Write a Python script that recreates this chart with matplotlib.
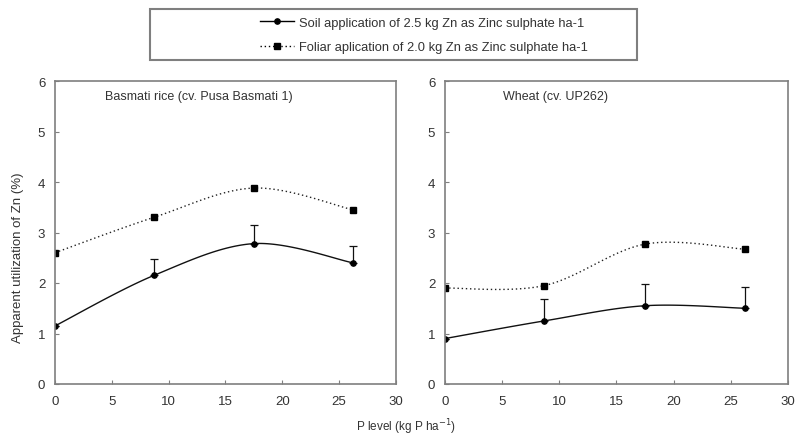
import numpy as np
import matplotlib.pyplot as plt
from matplotlib.lines import Line2D
from matplotlib.patches import Rectangle

plt.rcParams["font.family"] = ["Liberation Sans", "DejaVu Sans"]

p_level = [0, 8.7, 17.5, 26.2]

rice_soil = [1.15, 2.15, 2.78, 2.40]
rice_soil_err = [0.0, 0.32, 0.37, 0.33]
rice_foliar = [2.60, 3.30, 3.88, 3.45]

wheat_soil = [0.90, 1.25, 1.55, 1.50]
wheat_soil_err = [0.0, 0.43, 0.43, 0.42]
wheat_foliar = [1.90, 1.95, 2.77, 2.67]

panel_titles = ["Basmati rice (cv. Pusa Basmati 1)", "Wheat (cv. UP262)"]
legend_labels = ["Soil application of 2.5 kg Zn as Zinc sulphate ha-1",
                 "Foliar aplication of 2.0 kg Zn as Zinc sulphate ha-1"]

TXT = "#333333"
SPINE = "#7f7f7f"


def smooth(x, y, n=40):
    # spreadsheet-style smoothed line (bezier through the points)
    x = np.asarray(x, float)
    y = np.asarray(y, float)
    pts = np.column_stack([x, y])
    out = []
    for i in range(len(pts) - 1):
        p0 = pts[max(i - 1, 0)]
        p1 = pts[i]
        p2 = pts[i + 1]
        p3 = pts[min(i + 2, len(pts) - 1)]
        c1 = p1 + (p2 - p0) / 6
        c2 = p2 - (p3 - p1) / 6
        t = np.linspace(0, 1, n)[:, None]
        seg = ((1 - t) ** 3) * p1 + 3 * ((1 - t) ** 2) * t * c1 \
            + 3 * (1 - t) * t ** 2 * c2 + t ** 3 * p2
        out.append(seg if i == 0 else seg[1:])
    out = np.vstack(out)
    return out[:, 0], out[:, 1]


fig = plt.figure(figsize=(8.04, 4.39), dpi=100)
W, H = 804, 439
ax1 = fig.add_axes([55 / W, 1 - 385 / H, 341 / W, 303 / H])
ax2 = fig.add_axes([445 / W, 1 - 385 / H, 343 / W, 303 / H])

panels = [(ax1, rice_soil, rice_soil_err, rice_foliar, panel_titles[0], 0.147),
          (ax2, wheat_soil, wheat_soil_err, wheat_foliar, panel_titles[1], 0.17)]

for ax, soil, err, foliar, title, tx in panels:
    sx, sy = smooth(p_level, soil)
    ax.plot(sx, sy, color="#111111", lw=1.0)
    ax.errorbar(p_level, soil, yerr=[np.zeros(len(err)), err], fmt="o",
                ms=3.8, color="black", ecolor="#111111", elinewidth=0.9,
                capsize=3, capthick=0.9)
    fx, fy = smooth(p_level, foliar)
    ax.plot(fx, fy, color="#222222", lw=1.0, ls=(0, (1, 2)))
    ax.plot(p_level, foliar, "s", ms=4.5, color="black")

    ax.set_xlim(0, 30)
    ax.set_ylim(0, 6)
    ax.set_xticks(range(0, 31, 5))
    ax.set_yticks(range(0, 7))
    ax.tick_params(direction="in", length=3, color=SPINE, labelsize=9.5,
                   labelcolor=TXT)
    ax.tick_params(axis="x", pad=8)
    ax.tick_params(axis="y", pad=7)
    for s in ax.spines.values():
        s.set_color(SPINE)
        s.set_linewidth(1.2)
    ax.text(tx, 0.95, title, transform=ax.transAxes, fontsize=9,
            color=TXT, va="center")

fig.text(18 / W, 1 - 258 / H, "Apparent utilization of Zn (%)",
         rotation=90, ha="center", va="center", fontsize=9.5, color=TXT)
fig.text(406 / W, 1 - 427 / H, "P level (kg P ha$^{-1}$)",
         ha="center", va="center", fontsize=8.5, color=TXT)

# legend frame drawn separately, entries centred inside it
fig.patches.append(Rectangle((150 / W, 1 - 61 / H), 487 / W, 51 / H,
                             transform=fig.transFigure, fill=False,
                             edgecolor=SPINE, linewidth=1.5))
handles = [Line2D([], [], color="black", lw=1.0, marker="o", ms=3.8),
           Line2D([], [], color="black", lw=1.0, ls=(0, (1, 2)),
                  marker="s", ms=4)]
leg = fig.legend(handles, legend_labels, loc="center",
                 bbox_to_anchor=(424 / W, 1 - 36 / H),
                 fontsize=9.3, frameon=False, handlelength=2.6,
                 handletextpad=0.4, labelspacing=0.95, borderpad=0,
                 labelcolor=TXT)

fig.savefig("out.png", dpi=100)
